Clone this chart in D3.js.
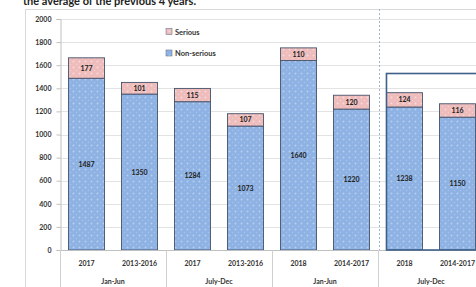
<!DOCTYPE html>
<html><head><meta charset="utf-8">
<script src="https://cdn.jsdelivr.net/npm/d3@7"></script>
<style>
html,body{margin:0;padding:0;background:#fff;overflow:hidden;}
svg{display:block;}
text{font-family:Lato,"Liberation Sans",sans-serif;}
</style></head><body>
<svg id="c" width="476" height="287"></svg>
<script>
const categories = ["2017","2013-2016","2017","2013-2016","2018","2014-2017","2018","2014-2017"];
const groups = ["Jan-Jun","July-Dec","Jan-Jun","July-Dec"];
const nonSerious = [1487,1350,1284,1073,1640,1220,1238,1150];
const serious = [177,101,115,107,110,120,124,116];
const yTicks = [0,200,400,600,800,1000,1200,1400,1600,1800,2000];
const seriesNames = ["Serious","Non-serious"];

const svg = d3.select("#c");
const defs = svg.append("defs");
function pat(id, bg, dot){
  const p = defs.append("pattern").attr("id",id).attr("patternUnits","userSpaceOnUse").attr("width",6).attr("height",6);
  p.append("rect").attr("width",6).attr("height",6).attr("fill",bg);
  p.append("circle").attr("cx",1.5).attr("cy",1.5).attr("r",1).attr("fill",dot);
  p.append("circle").attr("cx",4.5).attr("cy",4.5).attr("r",0.7).attr("fill",dot).attr("opacity",0.6);
}
pat("pBlue","#8db2e3","#b6cff0");
pat("pPink","#efbcbc","#f7d9d9");

// title (partly cut off at top, as in the reference)
svg.append("text").attr("x",23).attr("y",5).attr("font-size",11).attr("font-weight","bold").attr("fill","#222")
  .text("the average of the previous 4 years.");
// frame
svg.append("rect").attr("x",25.5).attr("y",9.5).attr("width",470).attr("height",300).attr("fill","none").attr("stroke","#d9d9d9");

const x = d3.scaleBand().domain(d3.range(categories.length)).range([60,60+53*8]).paddingInner(0.32).paddingOuter(0.16);
const y = d3.scaleLinear().domain([0,2000]).range([250,19]);

// gridlines
svg.append("g").selectAll("line").data(yTicks.slice(1)).join("line")
  .attr("x1",60).attr("x2",476).attr("y1",d=>Math.round(y(d))+0.5).attr("y2",d=>Math.round(y(d))+0.5)
  .attr("stroke","#e3e3e3");

// dashed separator
svg.append("line").attr("x1",379.5).attr("x2",379.5).attr("y1",9).attr("y2",250)
  .attr("stroke","#9fb6cf").attr("stroke-dasharray","2,2");

// y axis
const ya = svg.append("g").attr("transform","translate(60.5,0)")
  .call(d3.axisLeft(y).tickValues(yTicks).tickSize(4).tickFormat(d3.format("d")));
ya.select(".domain").attr("stroke","#bfbfbf");
ya.selectAll(".tick line").attr("stroke","#bfbfbf");
ya.selectAll(".tick text").attr("font-size",7).attr("font-weight","bold").attr("fill","#333").attr("x",-9);

// bars
const bars = svg.append("g");
categories.forEach((c,i)=>{
  const x0 = x(i), w = x.bandwidth();
  bars.append("rect").attr("x",x0).attr("y",y(nonSerious[i])).attr("width",w).attr("height",y(0)-y(nonSerious[i]))
    .attr("fill","url(#pBlue)").attr("stroke","#44536b").attr("stroke-width",0.9);
  bars.append("rect").attr("x",x0).attr("y",y(nonSerious[i]+serious[i])).attr("width",w).attr("height",y(nonSerious[i])-y(nonSerious[i]+serious[i]))
    .attr("fill","url(#pPink)").attr("stroke","#44536b").attr("stroke-width",0.9);
  bars.append("text").attr("x",x0+w/2).attr("y",(y(0)+y(nonSerious[i]))/2+2.5).attr("text-anchor","middle")
    .attr("font-size",7).attr("font-weight","bold").attr("fill","#222").text(nonSerious[i]);
  bars.append("text").attr("x",x0+w/2).attr("y",(y(nonSerious[i])+y(nonSerious[i]+serious[i]))/2+2.5).attr("text-anchor","middle")
    .attr("font-size",7).attr("font-weight","bold").attr("fill","#222").text(serious[i]);
});

// x axis
svg.append("line").attr("x1",60).attr("x2",476).attr("y1",250.5).attr("y2",250.5).attr("stroke","#bfbfbf");
const xa = svg.append("g");
categories.forEach((c,i)=>{
  xa.append("text").attr("x",x(i)+x.bandwidth()/2).attr("y",266).attr("text-anchor","middle")
    .attr("font-size",7).attr("font-weight","bold").attr("fill","#333").text(c);
});
groups.forEach((g,k)=>{
  const left = x(2*k) - x.step()*x.paddingOuter();
  xa.append("line").attr("x1",Math.round(left)+0.5).attr("x2",Math.round(left)+0.5).attr("y1",250).attr("y2",287).attr("stroke","#d0d0d0");
  xa.append("text").attr("x",left + x.step()).attr("y",284).attr("text-anchor","middle")
    .attr("font-size",7).attr("font-weight","bold").attr("fill","#333").text(g);
});

// highlight box
svg.append("rect").attr("x",x(6)).attr("y",73.5).attr("width",200).attr("height",250-73.5)
  .attr("fill","none").attr("stroke","#3f6189").attr("stroke-width",1.6);

// legend
const lg = svg.append("g");
[["url(#pPink)",32],["url(#pBlue)",53.5]].forEach((d,i)=>{
  lg.append("rect").attr("x",166).attr("y",d[1]-3.5).attr("width",6).attr("height",6).attr("fill",d[0]).attr("stroke","#6a7890").attr("stroke-width",0.6);
  lg.append("text").attr("x",175).attr("y",d[1]+2.5).attr("font-size",7.5).attr("font-weight","bold").attr("fill","#333").text(seriesNames[i]);
});
</script>
</body></html>
